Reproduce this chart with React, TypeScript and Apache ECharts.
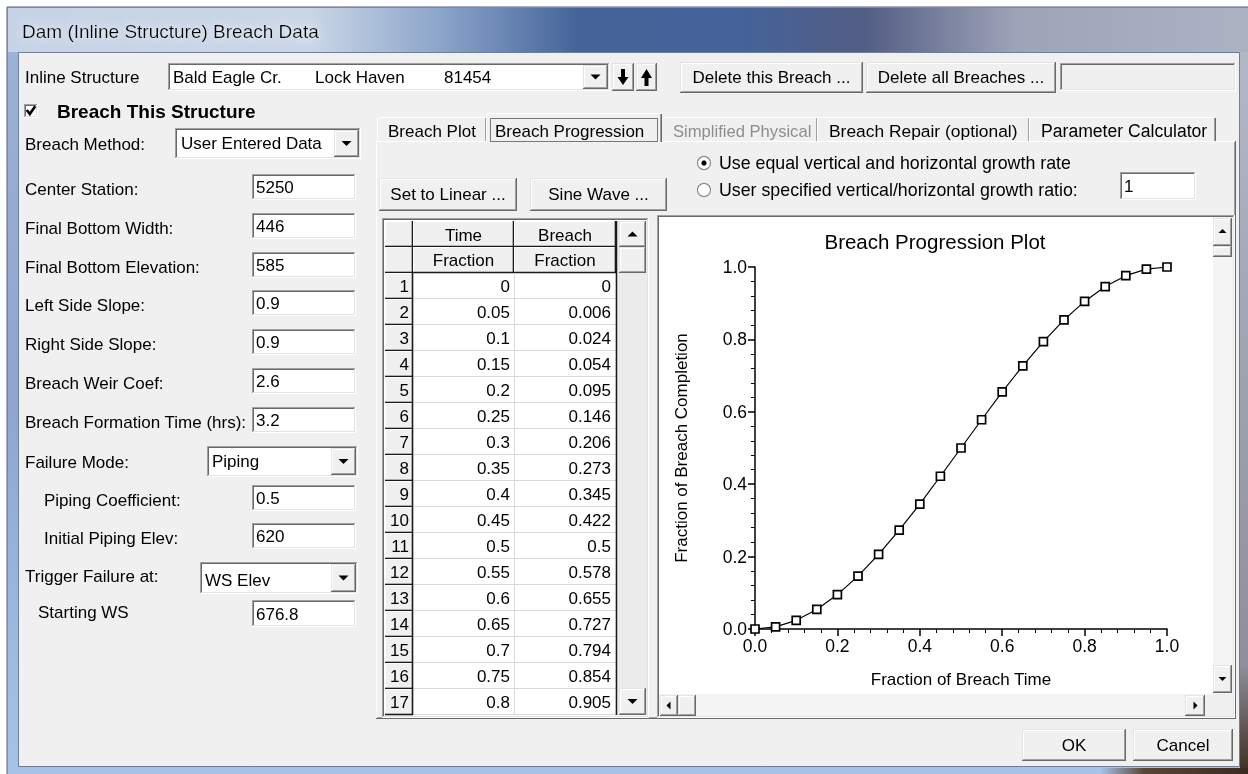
import React, { useEffect, useRef } from "react";
import * as echarts from "echarts";

// ---------------- data ----------------
const timeFraction = [0, 0.05, 0.1, 0.15, 0.2, 0.25, 0.3, 0.35, 0.4, 0.45, 0.5, 0.55, 0.6, 0.65, 0.7, 0.75, 0.8, 0.85, 0.9, 0.95, 1.0];
const breachFraction = [0, 0.006, 0.024, 0.054, 0.095, 0.146, 0.206, 0.273, 0.345, 0.422, 0.5, 0.578, 0.655, 0.727, 0.794, 0.854, 0.905, 0.946, 0.976, 0.994, 1.0];
const visibleRows = 17;

const windowTitle = "Dam (Inline Structure) Breach Data";
const structureParts = ["Bald Eagle Cr.", "Lock Haven", "81454"];
const fieldLabels = ["Center Station:", "Final Bottom Width:", "Final Bottom Elevation:", "Left Side Slope:", "Right Side Slope:", "Breach Weir Coef:", "Breach Formation Time (hrs):"];
const fieldValues = ["5250", "446", "585", "0.9", "0.9", "2.6", "3.2"];
const pipingLabels = ["Piping Coefficient:", "Initial Piping Elev:"];
const pipingValues = ["0.5", "620"];
const tabNames = ["Breach Plot", "Breach Progression", "Simplified Physical", "Breach Repair (optional)", "Parameter Calculator"];
const radioLabels = ["Use equal vertical and horizontal growth rate", "User specified vertical/horizontal growth ratio:"];

// ---------------- layout helpers ----------------
const F = '"Liberation Sans", Arial, Helvetica, sans-serif';
const FS = 17;

function R(x: number, y: number, w: number, h: number, fill: any, stroke?: string, extra: any = {}) {
  return { type: "rect", shape: { x, y, width: w, height: h }, style: { fill, stroke: stroke || null, lineWidth: 1, ...extra }, z: 1, silent: true };
}
function L(x1: number, y1: number, x2: number, y2: number, stroke: string, w = 1) {
  return { type: "line", shape: { x1, y1, x2, y2 }, style: { stroke, lineWidth: w }, z: 1, silent: true };
}
function H(x1: number, x2: number, y: number, c: string) { return L(x1, y + 0.5, x2, y + 0.5, c); }
function V(x: number, y1: number, y2: number, c: string) { return L(x + 0.5, y1, x + 0.5, y2, c); }
function T(x: number, y: number, s: string, o: any = {}) {
  const align = o.align || "left";
  return {
    type: "text", x, y, z: 1, silent: true,
    style: {
      text: s, font: `${o.weight || "normal"} ${o.size || FS}px ${F}`, fill: o.color || "#000",
      align, textAlign: align, verticalAlign: "middle", textVerticalAlign: "middle",
      ...(o.extra || {}),
    },
  };
}
function sunken(x: number, y: number, w: number, h: number, fill = "#fff") {
  return [
    R(x, y, w, h, fill),
    H(x, x + w - 1, y, "#a0a0a0"), V(x, y, y + h - 1, "#a0a0a0"),
    H(x + 1, x + w - 2, y + 1, "#696969"), V(x + 1, y + 1, y + h - 2, "#696969"),
    H(x, x + w, y + h - 1, "#ffffff"), V(x + w - 1, y, y + h, "#ffffff"),
    H(x + 1, x + w - 1, y + h - 2, "#e3e3e3"), V(x + w - 2, y + 1, y + h - 1, "#e3e3e3"),
  ];
}
function raised(x: number, y: number, w: number, h: number, fill = "#f0f0f0") {
  return [
    R(x, y, w, h, fill),
    H(x, x + w - 1, y, "#e3e3e3"), V(x, y, y + h - 1, "#e3e3e3"),
    H(x + 1, x + w - 2, y + 1, "#ffffff"), V(x + 1, y + 1, y + h - 2, "#ffffff"),
    H(x, x + w, y + h - 1, "#696969"), V(x + w - 1, y, y + h, "#696969"),
    H(x + 1, x + w - 1, y + h - 2, "#a0a0a0"), V(x + w - 2, y + 1, y + h - 1, "#a0a0a0"),
  ];
}
function tri(cx: number, cy: number, dir: string, s = 4) {
  let pts: number[][];
  if (dir === "down") pts = [[cx - s, cy - s / 2], [cx + s, cy - s / 2], [cx, cy + s / 2]];
  else if (dir === "up") pts = [[cx - s, cy + s / 2], [cx + s, cy + s / 2], [cx, cy - s / 2]];
  else if (dir === "left") pts = [[cx + s / 2, cy - s], [cx + s / 2, cy + s], [cx - s / 2, cy]];
  else pts = [[cx - s / 2, cy - s], [cx - s / 2, cy + s], [cx + s / 2, cy]];
  return { type: "polygon", shape: { points: pts }, style: { fill: "#000" }, z: 1, silent: true };
}
function button(x: number, y: number, w: number, h: number, label: string) {
  return [...raised(x, y, w, h), T(x + w / 2, y + h / 2, label, { align: "center" })];
}
function combo(x: number, y: number, w: number, h: number, label: string, tx: number, ty?: number) {
  return [
    ...sunken(x, y, w, h),
    ...raised(x + w - 27, y + 2, 25, h - 4),
    tri(x + w - 14.5, y + h / 2, "down", 5),
    T(tx, ty ?? y + h / 2, label),
  ];
}

function buildGraphics() {
  const g: any[] = [];
  const push = (...a: any[]) => a.forEach((e) => (Array.isArray(e) ? g.push(...e) : g.push(e)));

  // window frame
  push(R(0, 0, 1248, 774, "#ffffff"));
  push(R(7, 7, 1260, 780, new echarts.graphic.LinearGradient(0, 0, 0, 1, [
    { offset: 0, color: "#9db3d6" }, { offset: 0.5, color: "#8ea6cf" }, { offset: 1, color: "#a8c3e8" },
  ]), "#54627a"));
  push(R(8, 8, 1260, 44, new echarts.graphic.LinearGradient(0, 0, 1, 0, [
    { offset: 0, color: "#c6d3e6" }, { offset: 0.24, color: "#cad6e6" }, { offset: 0.34, color: "#8ea6cc" },
    { offset: 0.45, color: "#45659a" }, { offset: 0.58, color: "#44639a" }, { offset: 0.68, color: "#535e84" },
    { offset: 0.8, color: "#9ea3b8" }, { offset: 1, color: "#aeb3c4" },
  ])));
  push(R(1240, 52, 10, 722, new echarts.graphic.LinearGradient(0, 0, 0, 1, [
    { offset: 0, color: "#b3b8c8" }, { offset: 0.85, color: "#8f8f9a" }, { offset: 1, color: "#3f2d22" },
  ])));
  push(R(1100, 768, 148, 6, new echarts.graphic.LinearGradient(0, 0, 1, 0, [
    { offset: 0, color: "#a8c3e8" }, { offset: 0.3, color: "#5a4638" }, { offset: 1, color: "#3a2a20" },
  ])));
  push(T(22, 31, windowTitle, { size: 19, extra: { textShadowColor: "rgba(255,255,255,0.9)", textShadowBlur: 10 } }));
  push(R(18.5, 52.5, 1221, 714, "#f0f0f0", "#6f7f98"));

  // top row
  push(T(25, 77, "Inline Structure"));
  push(...combo(168, 63, 442, 28, "", 0));
  push(T(173, 77, structureParts[0]), T(315, 77, structureParts[1]), T(444, 77, structureParts[2]));
  push(...raised(612, 63, 22, 28), ...raised(636, 63, 21, 28));
  // down arrow
  push(R(621, 69, 4, 9, "#000"), { type: "polygon", shape: { points: [[617.5, 77], [628.5, 77], [623, 85]] }, style: { fill: "#000" }, z: 1, silent: true });
  // up arrow
  push(R(644.5, 77, 4, 9, "#000"), { type: "polygon", shape: { points: [[641, 78], [652, 78], [646.5, 69]] }, style: { fill: "#000" }, z: 1, silent: true });
  push(...button(680, 62, 183, 31, "Delete this Breach ..."));
  push(...button(866, 62, 190, 31, "Delete all Breaches ..."));
  push(...sunken(1060, 63, 176, 28, "#f0f0f0"));

  // checkbox
  push(...sunken(24, 104, 14, 14));
  push({ type: "polyline", shape: { points: [[26.8, 110], [29.8, 114], [35.2, 106.2]] }, style: { stroke: "#000", lineWidth: 2.6, fill: null }, z: 1, silent: true });
  push(T(57, 111, "Breach This Structure", { weight: "bold", size: 19 }));

  // left panel
  push(T(25, 144, "Breach Method:"));
  push(...combo(175, 128, 186, 31, "User Entered Data", 181));
  const fieldTops = [174, 213, 252, 290, 329, 368, 407];
  fieldLabels.forEach((lab, i) => {
    const top = fieldTops[i];
    push(T(25, top + 15, lab));
    push(...sunken(252, top, 104, 26));
    push(T(256, top + 13, fieldValues[i]));
  });
  push(T(25, 462, "Failure Mode:"));
  push(...combo(207, 446, 151, 31, "Piping", 212));
  const pipingTops = [485, 523];
  pipingLabels.forEach((lab, i) => {
    const top = pipingTops[i];
    push(T(44, top + 15, lab));
    push(...sunken(252, top, 104, 26));
    push(T(256, top + 13, pipingValues[i]));
  });
  push(T(25, 576, "Trigger Failure at:"));
  push(...combo(200, 562, 158, 32, "WS Elev", 205, 580));
  push(T(38, 612, "Starting WS"));
  push(...sunken(252, 600, 104, 27));
  push(T(256, 614, "676.8"));

  // tab panel
  push(R(376, 141, 860, 578, "#f0f0f0"));
  push(H(376, 1236, 141, "#ffffff"), V(376, 141, 719, "#ffffff"));
  push(H(376, 1236, 718, "#696969"), V(1235, 141, 719, "#696969"));
  push(H(377, 1235, 717, "#a0a0a0"), V(1234, 142, 718, "#a0a0a0"));
  // tabs
  push(H(378, 485, 117, "#ffffff"), V(377, 118, 141, "#ffffff"), V(485, 118, 141, "#a0a0a0"));
  push(T(388, 131, tabNames[0]));
  push(R(486, 113, 176, 30, "#f0f0f0"));
  push(H(487, 661, 113, "#ffffff"), V(486, 114, 142, "#ffffff"), V(661, 114, 142, "#696969"), V(660, 114, 142, "#a0a0a0"));
  push(R(490.5, 118.5, 167, 23, null, "#000", { lineDash: [1, 1] }));
  push(T(495, 131, tabNames[1]));
  push(H(663, 1214, 117, "#ffffff"));
  push(T(673, 131, tabNames[2], { color: "#8d8d8d", size: 16.6 }));
  push(V(816, 118, 141, "#a0a0a0"), V(817, 118, 141, "#ffffff"));
  push(T(829, 131, tabNames[3], { size: 17.4 }));
  push(V(1028, 118, 141, "#a0a0a0"), V(1029, 118, 141, "#ffffff"));
  push(T(1041, 131, tabNames[4], { size: 17.6 }));
  push(V(1214, 118, 141, "#a0a0a0"), V(1215, 118, 141, "#696969"));

  // radios
  const radioY = [163, 190];
  radioLabels.forEach((lab, i) => {
    const cy = radioY[i];
    push({ type: "circle", shape: { cx: 704, cy, r: 6.5 }, style: { fill: "#fff", stroke: "#8c8c8c", lineWidth: 1.2 }, z: 1, silent: true });
    if (i === 0) push({ type: "circle", shape: { cx: 704, cy, r: 2.6 }, style: { fill: "#000" }, z: 1, silent: true });
    push(T(719, cy, lab, { size: 17.8 }));
  });
  push(...sunken(1120, 172, 76, 28));
  push(T(1124, 186, "1"));

  push(...button(379, 178, 138, 33, "Set to Linear ..."));
  push(...button(530, 178, 137, 33, "Sine Wave ..."));

  // table
  push(...sunken(382, 218, 267, 500));
  const x0 = 385, x1 = 413, x2 = 514, x3 = 616, y0 = 221, yh = 247, yd = 273, rh = 26;
  const yEnd = yd + visibleRows * rh;
  push(R(x0, y0, x3 - x0, yd - y0, "#f0f0f0"));
  push(R(x0, yd, x1 - x0, yEnd - yd, "#f0f0f0"));
  push(R(x1, yd, x3 - x1, yEnd - yd, "#ffffff"));
  // header cells
  [[x0, x1], [x1, x2], [x2, x3]].forEach(([a, b]) => {
    [[y0, yh], [yh, yd]].forEach(([c, d]) => {
      push(H(a, b, c, "#ffffff"), V(a, c, d, "#ffffff"));
      push(L(a, d - 0.5, b, d - 0.5, "#1a1a1a", 1.6), L(b - 0.5, c, b - 0.5, d, "#1a1a1a", 1.6));
    });
  });
  push(T((x1 + x2) / 2, 235, "Time", { align: "center" }), T((x2 + x3) / 2, 235, "Breach", { align: "center" }));
  push(T((x1 + x2) / 2, 260, "Fraction", { align: "center" }), T((x2 + x3) / 2, 260, "Fraction", { align: "center" }));
  for (let i = 0; i < visibleRows; i++) {
    const top = yd + i * rh;
    push(H(x1, x3, top + rh - 1, "#d9d9d9"));
    push(H(x0, x1, top, "#ffffff"), V(x0, top, top + rh, "#ffffff"));
    push(L(x0, top + rh - 0.5, x1, top + rh - 0.5, "#1a1a1a", 1.6));
    push(T(409, top + 13, String(i + 1), { align: "right" }));
    push(T(510, top + 13, String(timeFraction[i]), { align: "right" }));
    push(T(611, top + 13, String(breachFraction[i]), { align: "right" }));
  }
  push(V(x2, yd, yEnd, "#d9d9d9"));
  push(L(x1 - 0.5, yd, x1 - 0.5, yEnd, "#1a1a1a", 1.6));
  push(L(x3 + 0.5, y0, x3 + 0.5, yEnd, "#1a1a1a", 1.6));
  // table scrollbar
  push(R(618, 221, 29, 494, "#ebebeb"));
  push(...raised(619, 221, 27, 26), tri(632.5, 234, "up", 5));
  push(...raised(619, 247, 27, 26));
  push(...raised(619, 688, 27, 27), tri(632.5, 701.5, "down", 5));

  // plot area
  push(...sunken(657, 215, 578, 503));
  push(R(659, 217, 554, 477, "#ffffff"));
  // vertical scrollbar
  push(R(1213, 217, 20, 477, "#f4f4f4"));
  push(...raised(1213, 218, 19, 28), tri(1222.5, 231, "up", 4));
  push(...raised(1213, 246, 19, 11));
  push(...raised(1213, 665, 19, 28), tri(1222.5, 679, "down", 4));
  // horizontal scrollbar
  push(R(659, 694, 554, 22, "#f4f4f4"));
  push(...raised(660, 695, 18, 21), tri(668.5, 705.5, "left", 4));
  push(...raised(678, 695, 18, 21));
  push(...raised(1185, 695, 20, 21), tri(1195.5, 705.5, "right", 4));
  push(R(1205, 694, 28, 22, "#f0f0f0"));

  push(T(935, 241, "Breach Progression Plot", { align: "center", size: 20.5 }));

  // OK / Cancel
  push(...button(1022, 729, 104, 32, "OK"));
  push(...button(1133, 729, 100, 32, "Cancel"));

  return g;
}

export default function App() {
  const ref = useRef<HTMLDivElement>(null);
  useEffect(() => {
    if (!ref.current) return;
    const chart = echarts.init(ref.current, undefined, { renderer: "svg" });
    const axisCommon = {
      type: "value" as const, min: 0, max: 1, interval: 0.2, z: 5,
      nameLocation: "middle" as const,
      nameTextStyle: { fontFamily: F, fontSize: 17, color: "#000" },
      axisLine: { show: true, onZero: false, lineStyle: { color: "#000", width: 1.5 } },
      axisTick: { show: true, length: 7, lineStyle: { color: "#000", width: 1.5 } },
      minorTick: { show: true, splitNumber: 5, length: 4, lineStyle: { color: "#000", width: 1 } },
      axisLabel: { formatter: (v: number) => v.toFixed(1), fontFamily: F, fontSize: 17.5, color: "#000", margin: 8 },
      splitLine: { show: false },
      minorSplitLine: { show: false },
    };
    chart.setOption({
      animation: false,
      graphic: { elements: buildGraphics() },
      grid: { left: 755, top: 267, width: 412, height: 362, containLabel: false },
      xAxis: { ...axisCommon, name: "Fraction of Breach Time", nameGap: 42 },
      yAxis: { ...axisCommon, name: "Fraction of Breach Completion", nameGap: 65 },
      series: [
        {
          type: "line",
          data: timeFraction.map((t, i) => [t, breachFraction[i]]),
          symbol: "rect",
          symbolSize: 8,
          showSymbol: true,
          showAllSymbol: true,
          clip: false,
          silent: true,
          z: 10,
          lineStyle: { color: "#000", width: 1.2 },
          itemStyle: { color: "#ffffff", borderColor: "#000", borderWidth: 1.7 },
        },
      ],
    });
    return () => chart.dispose();
  }, []);
  return <div ref={ref} style={{ position: "fixed", left: 0, top: 0, width: 1248, height: 774 }} />;
}
